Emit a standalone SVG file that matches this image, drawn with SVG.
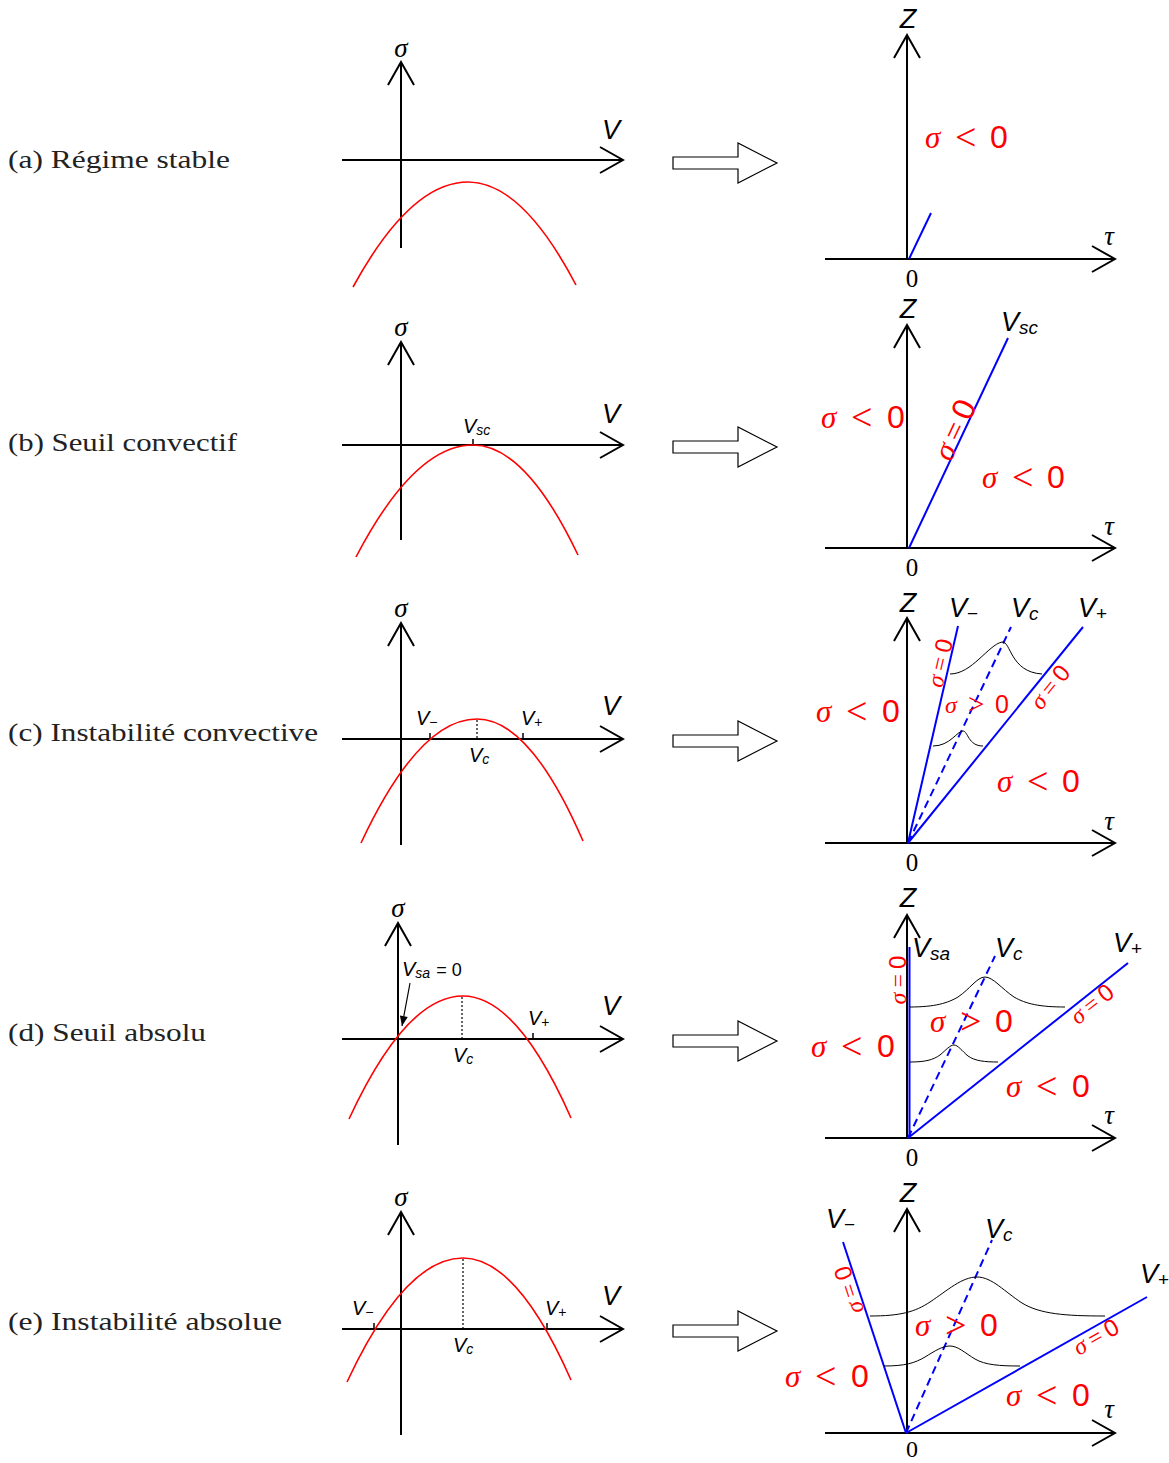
<svg xmlns="http://www.w3.org/2000/svg" width="1169" height="1463" viewBox="0 0 1169 1463">
<style>
.ax{stroke:#000;stroke-width:2;fill:none}
.par{stroke:#ff0000;stroke-width:1.6;fill:none}
.bl{stroke:#0000ff;stroke-width:2;fill:none}
.dash{stroke-dasharray:8 5}
.dot{stroke:#000;stroke-width:1.2;stroke-dasharray:2 2;fill:none}
.tk{stroke:#000;stroke-width:1.5}
.pk{stroke:#000;stroke-width:1;fill:none}
.cap{font-family:"Liberation Serif","Times New Roman",serif;font-size:26px;fill:#222}
.sg{font-family:"Liberation Serif","Times New Roman",serif;font-style:italic}
.se{font-family:"Liberation Serif","Times New Roman",serif;font-style:normal}
.ss{font-family:"Liberation Sans",Arial,sans-serif;font-style:normal}
.si{font-family:"Liberation Sans",Arial,sans-serif;font-style:italic}
.red{fill:#ff0000}
.big{font-size:31px}
.lt{font-size:38px}
.z{font-size:32px}
.mid{font-size:24px}
.lab{font-size:27px}
.sm{font-size:20px}
.sub{font-size:14px}
.subb{font-size:19px}
.barrow{fill:#fff;stroke:#000;stroke-width:1.2}
</style>
<defs>
<marker id="ah" markerUnits="userSpaceOnUse" orient="auto" viewBox="-25 -15 27 30" markerWidth="27" markerHeight="30" refX="0" refY="0">
<path d="M-23,-13 L0,0 L-23,13" fill="none" stroke="#000" stroke-width="2"/>
</marker>
<marker id="fa" markerUnits="userSpaceOnUse" orient="auto" viewBox="-11 -5 12 10" markerWidth="12" markerHeight="10" refX="0" refY="0">
<path d="M-10,-4 L0,0 L-10,4 Z" fill="#000"/>
</marker>
<path id="barr" d="M-104,-6 H-39 V-20 L0,0 L-39,20 V6 H-104 Z"/>
</defs>

<g id="captions">
<text class="cap" x="8" y="168" textLength="222" lengthAdjust="spacingAndGlyphs">(a) Régime stable</text>
<text class="cap" x="8" y="451" textLength="229" lengthAdjust="spacingAndGlyphs">(b) Seuil convectif</text>
<text class="cap" x="8" y="741" textLength="310" lengthAdjust="spacingAndGlyphs">(c) Instabilité convective</text>
<text class="cap" x="8" y="1041" textLength="198" lengthAdjust="spacingAndGlyphs">(d) Seuil absolu</text>
<text class="cap" x="8" y="1330" textLength="274" lengthAdjust="spacingAndGlyphs">(e) Instabilité absolue</text>
</g>

<g id="connectors">
<use href="#barr" class="barrow" transform="translate(777,163)"/>
<use href="#barr" class="barrow" transform="translate(777,447)"/>
<use href="#barr" class="barrow" transform="translate(777,741)"/>
<use href="#barr" class="barrow" transform="translate(777,1041)"/>
<use href="#barr" class="barrow" transform="translate(777,1331)"/>
</g>

<!-- (a) -->
<g id="plot-a-left">
<line class="ax" x1="401" y1="248" x2="401" y2="62" marker-end="url(#ah)"/>
<line class="ax" x1="342" y1="160" x2="623" y2="160" marker-end="url(#ah)"/>
<path class="par" d="M353,287 Q410.5,182 468,182 Q522,182 576,285"/>
<text class="sg lab" x="401" y="57" text-anchor="middle">σ</text>
<text class="si lab" x="611" y="139" text-anchor="middle">V</text>
</g>
<g id="plot-a-right">
<line class="ax" x1="907" y1="259" x2="907" y2="35" marker-end="url(#ah)"/>
<line class="ax" x1="825" y1="259" x2="1115" y2="259" marker-end="url(#ah)"/>
<line class="bl" x1="909" y1="259" x2="931" y2="213"/>
<text class="si lab" x="908" y="28" text-anchor="middle">Z</text>
<text class="sg lab" x="1109" y="245" text-anchor="middle">τ</text>
<text class="se" font-size="25" x="912" y="287" text-anchor="middle">0</text>
<text class="red big"><tspan class="sg" x="925" y="148">σ</tspan><tspan class="se lt" x="955" y="150">&lt;</tspan><tspan class="ss z" x="990" y="148">0</tspan></text>
</g>

<!-- (b) -->
<g id="plot-b-left">
<line class="ax" x1="401" y1="540" x2="401" y2="342" marker-end="url(#ah)"/>
<line class="ax" x1="342" y1="445" x2="623" y2="445" marker-end="url(#ah)"/>
<line class="tk" x1="473" y1="439" x2="473" y2="445"/>
<path class="par" d="M356,557 Q414.5,445 473,445 Q525.5,445 578,555"/>
<text class="sg lab" x="401" y="336" text-anchor="middle">σ</text>
<text class="si lab" x="611" y="423" text-anchor="middle">V</text>
<text class="si sm" x="463" y="433">V<tspan class="sub" dy="2">sc</tspan></text>
</g>
<g id="plot-b-right">
<line class="ax" x1="907" y1="548" x2="907" y2="325" marker-end="url(#ah)"/>
<line class="ax" x1="825" y1="548" x2="1115" y2="548" marker-end="url(#ah)"/>
<line class="bl" x1="909" y1="548" x2="1008" y2="338"/>
<text class="si lab" x="908" y="318" text-anchor="middle">Z</text>
<text class="sg lab" x="1109" y="535" text-anchor="middle">τ</text>
<text class="se" font-size="25" x="912" y="576" text-anchor="middle">0</text>
<text class="si lab" x="1001" y="331">V<tspan class="subb" dy="3">sc</tspan></text>
<text class="red big"><tspan class="sg" x="821" y="428">σ</tspan><tspan class="se lt" x="851" y="430">&lt;</tspan><tspan class="ss z" x="887" y="428">0</tspan></text>
<text class="red big"><tspan class="sg" x="982" y="488">σ</tspan><tspan class="se lt" x="1012" y="490">&lt;</tspan><tspan class="ss z" x="1047" y="488">0</tspan></text>
<text class="red big" transform="translate(955,430) rotate(-64.8)" text-anchor="middle" y="10"><tspan class="sg">σ</tspan><tspan class="se" dx="6">=</tspan><tspan class="ss z" dx="6">0</tspan></text>
</g>

<!-- (c) -->
<g id="plot-c-left">
<line class="ax" x1="401" y1="845" x2="401" y2="623" marker-end="url(#ah)"/>
<line class="ax" x1="342" y1="739" x2="623" y2="739" marker-end="url(#ah)"/>
<line class="tk" x1="430" y1="733" x2="430" y2="739"/>
<line class="tk" x1="523" y1="733" x2="523" y2="739"/>
<line class="dot" x1="477" y1="720" x2="477" y2="739"/>
<path class="par" d="M361,843 Q419,719 477,719 Q530,719 583,841"/>
<text class="sg lab" x="401" y="617" text-anchor="middle">σ</text>
<text class="si lab" x="611" y="715" text-anchor="middle">V</text>
<text class="si sm" x="416" y="725">V<tspan class="ss sub" dy="2">−</tspan></text>
<text class="si sm" x="521" y="725">V<tspan class="ss sub" dy="2">+</tspan></text>
<text class="si sm" x="469" y="762">V<tspan class="sub" dy="2">c</tspan></text>
</g>
<g id="plot-c-right">
<line class="ax" x1="907" y1="843" x2="907" y2="618" marker-end="url(#ah)"/>
<line class="ax" x1="825" y1="843" x2="1115" y2="843" marker-end="url(#ah)"/>
<line class="bl" x1="908" y1="843" x2="958" y2="626"/>
<line class="bl dash" x1="908" y1="843" x2="1011" y2="627"/>
<line class="bl" x1="908" y1="843" x2="1083" y2="627"/>
<path class="pk" d="M950,674 C972,674 988,645 1002,642 C1011,641 1010,672 1042,674"/>
<path class="pk" d="M933,746 C950,746 957,731 963,731 C968,731 968,746 983,746"/>
<text class="si lab" x="908" y="612" text-anchor="middle">Z</text>
<text class="sg lab" x="1109" y="830" text-anchor="middle">τ</text>
<text class="se" font-size="25" x="912" y="871" text-anchor="middle">0</text>
<text class="si lab" x="949" y="617">V<tspan class="ss subb" dy="3">−</tspan></text>
<text class="si lab" x="1011" y="617">V<tspan class="subb" dy="3">c</tspan></text>
<text class="si lab" x="1078" y="617">V<tspan class="ss subb" dy="3">+</tspan></text>
<text class="red big"><tspan class="sg" x="816" y="722">σ</tspan><tspan class="se lt" x="846" y="724">&lt;</tspan><tspan class="ss z" x="882" y="722">0</tspan></text>
<text class="red big"><tspan class="sg" x="997" y="792">σ</tspan><tspan class="se lt" x="1027" y="794">&lt;</tspan><tspan class="ss z" x="1062" y="792">0</tspan></text>
<text class="red" font-size="24"><tspan class="sg" x="945" y="713">σ</tspan><tspan class="se" font-size="29" x="968" y="714">&gt;</tspan><tspan class="ss" font-size="25" x="995" y="713">0</tspan></text>
<text class="red mid" transform="translate(940,663) rotate(-77)" text-anchor="middle" y="8"><tspan class="sg">σ</tspan><tspan class="se" dx="5">=</tspan><tspan class="ss" dx="5">0</tspan></text>
<text class="red mid" transform="translate(1050,687) rotate(-51)" text-anchor="middle" y="8"><tspan class="sg">σ</tspan><tspan class="se" dx="5">=</tspan><tspan class="ss" dx="5">0</tspan></text>
</g>

<!-- (d) -->
<g id="plot-d-left">
<line class="ax" x1="398" y1="1145" x2="398" y2="923" marker-end="url(#ah)"/>
<line class="ax" x1="342" y1="1039" x2="623" y2="1039" marker-end="url(#ah)"/>
<line class="tk" x1="533" y1="1033" x2="533" y2="1039"/>
<line class="dot" x1="462" y1="997" x2="462" y2="1039"/>
<path class="par" d="M349,1119 Q406,996 463,996 Q517,996 571,1118"/>
<line stroke="#000" stroke-width="1.2" x1="410" y1="983" x2="402" y2="1026" marker-end="url(#fa)"/>
<text class="sg lab" x="398" y="917" text-anchor="middle">σ</text>
<text class="si lab" x="611" y="1015" text-anchor="middle">V</text>
<text class="sm" x="402" y="976"><tspan class="si">V</tspan><tspan class="si sub" dy="2">sa</tspan><tspan class="ss" font-size="18" dy="-2" dx="6">= 0</tspan></text>
<text class="si sm" x="528" y="1025">V<tspan class="ss sub" dy="2">+</tspan></text>
<text class="si sm" x="453" y="1062">V<tspan class="sub" dy="2">c</tspan></text>
</g>
<g id="plot-d-right">
<line class="ax" x1="907" y1="1138" x2="907" y2="915" marker-end="url(#ah)"/>
<line class="ax" x1="825" y1="1138" x2="1115" y2="1138" marker-end="url(#ah)"/>
<line class="bl" x1="909.5" y1="1138" x2="909.5" y2="947"/>
<line class="bl dash" x1="908" y1="1138" x2="995" y2="956"/>
<line class="bl" x1="908" y1="1138" x2="1128" y2="963"/>
<path class="pk" d="M910,1007 C935,1007 948,1003 958,997 C970,989 977,977 985,977 C993,977 1002,989 1014,997 C1026,1004 1040,1007 1065,1007"/>
<path class="pk" d="M910,1062 C925,1062 933,1060 940,1055 C946,1050 950,1045 954,1045 C958,1045 962,1051 968,1056 C975,1061 985,1062 998,1062"/>
<text class="si lab" x="908" y="907" text-anchor="middle">Z</text>
<text class="sg lab" x="1109" y="1124" text-anchor="middle">τ</text>
<text class="se" font-size="25" x="912" y="1166" text-anchor="middle">0</text>
<text class="si lab" x="912" y="957">V<tspan class="subb" dy="3">sa</tspan></text>
<text class="si lab" x="995" y="957">V<tspan class="subb" dy="3">c</tspan></text>
<text class="si lab" x="1113" y="952">V<tspan class="ss subb" dy="3">+</tspan></text>
<text class="red big"><tspan class="sg" x="811" y="1057">σ</tspan><tspan class="se lt" x="841" y="1059">&lt;</tspan><tspan class="ss z" x="877" y="1057">0</tspan></text>
<text class="red big"><tspan class="sg" x="1006" y="1097">σ</tspan><tspan class="se lt" x="1036" y="1099">&lt;</tspan><tspan class="ss z" x="1072" y="1097">0</tspan></text>
<text class="red big"><tspan class="sg" x="930" y="1032">σ</tspan><tspan class="se lt" x="960" y="1034">&gt;</tspan><tspan class="ss z" x="995" y="1032">0</tspan></text>
<text class="red mid" transform="translate(898,980) rotate(-90)" text-anchor="middle" y="8"><tspan class="sg">σ</tspan><tspan class="se" dx="5">=</tspan><tspan class="ss" dx="5">0</tspan></text>
<text class="red mid" transform="translate(1092,1004) rotate(-38.5)" text-anchor="middle" y="8"><tspan class="sg">σ</tspan><tspan class="se" dx="5">=</tspan><tspan class="ss" dx="5">0</tspan></text>
</g>

<!-- (e) -->
<g id="plot-e-left">
<line class="ax" x1="401" y1="1435" x2="401" y2="1212" marker-end="url(#ah)"/>
<line class="ax" x1="342" y1="1329" x2="623" y2="1329" marker-end="url(#ah)"/>
<line class="tk" x1="374" y1="1323" x2="374" y2="1329"/>
<line class="tk" x1="547" y1="1323" x2="547" y2="1329"/>
<line class="dot" x1="463" y1="1259" x2="463" y2="1329"/>
<path class="par" d="M347,1382 Q405,1258 463,1258 Q517,1258 571,1380"/>
<text class="sg lab" x="401" y="1206" text-anchor="middle">σ</text>
<text class="si lab" x="611" y="1305" text-anchor="middle">V</text>
<text class="si sm" x="352" y="1315">V<tspan class="ss sub" dy="2">−</tspan></text>
<text class="si sm" x="545" y="1315">V<tspan class="ss sub" dy="2">+</tspan></text>
<text class="si sm" x="453" y="1352">V<tspan class="sub" dy="2">c</tspan></text>
</g>
<g id="plot-e-right">
<line class="ax" x1="907" y1="1433" x2="907" y2="1209" marker-end="url(#ah)"/>
<line class="ax" x1="825" y1="1433" x2="1115" y2="1433" marker-end="url(#ah)"/>
<line class="bl" x1="906" y1="1433" x2="843" y2="1242"/>
<line class="bl dash" x1="906" y1="1433" x2="992" y2="1240"/>
<line class="bl" x1="906" y1="1433" x2="1147" y2="1297"/>
<path class="pk" d="M870,1316 C900,1316 915,1312 930,1302 C948,1290 962,1277 977,1277 C992,1277 1005,1292 1022,1303 C1040,1314 1065,1316 1105,1316"/>
<path class="pk" d="M884,1366 C905,1366 915,1363 925,1357 C935,1351 942,1346 950,1346 C958,1346 965,1353 975,1359 C985,1365 1000,1366 1020,1366"/>
<text class="si lab" x="908" y="1202" text-anchor="middle">Z</text>
<text class="sg lab" x="1109" y="1418" text-anchor="middle">τ</text>
<text class="se" font-size="24" x="912" y="1457" text-anchor="middle">0</text>
<text class="si lab" x="826" y="1228">V<tspan class="ss subb" dy="3">−</tspan></text>
<text class="si lab" x="985" y="1238">V<tspan class="subb" dy="3">c</tspan></text>
<text class="si lab" x="1140" y="1283">V<tspan class="ss subb" dy="3">+</tspan></text>
<text class="red big"><tspan class="sg" x="785" y="1387">σ</tspan><tspan class="se lt" x="815" y="1389">&lt;</tspan><tspan class="ss z" x="851" y="1387">0</tspan></text>
<text class="red big"><tspan class="sg" x="1006" y="1406">σ</tspan><tspan class="se lt" x="1036" y="1408">&lt;</tspan><tspan class="ss z" x="1072" y="1406">0</tspan></text>
<text class="red big"><tspan class="sg" x="915" y="1336">σ</tspan><tspan class="se lt" x="945" y="1338">&gt;</tspan><tspan class="ss z" x="980" y="1336">0</tspan></text>
<text class="red mid" transform="translate(849,1290) rotate(-108)" text-anchor="middle" y="8"><tspan class="sg">σ</tspan><tspan class="se" dx="5">=</tspan><tspan class="ss" dx="5">0</tspan></text>
<text class="red mid" transform="translate(1096,1337) rotate(-29.4)" text-anchor="middle" y="8"><tspan class="sg">σ</tspan><tspan class="se" dx="5">=</tspan><tspan class="ss" dx="5">0</tspan></text>
</g>
</svg>
